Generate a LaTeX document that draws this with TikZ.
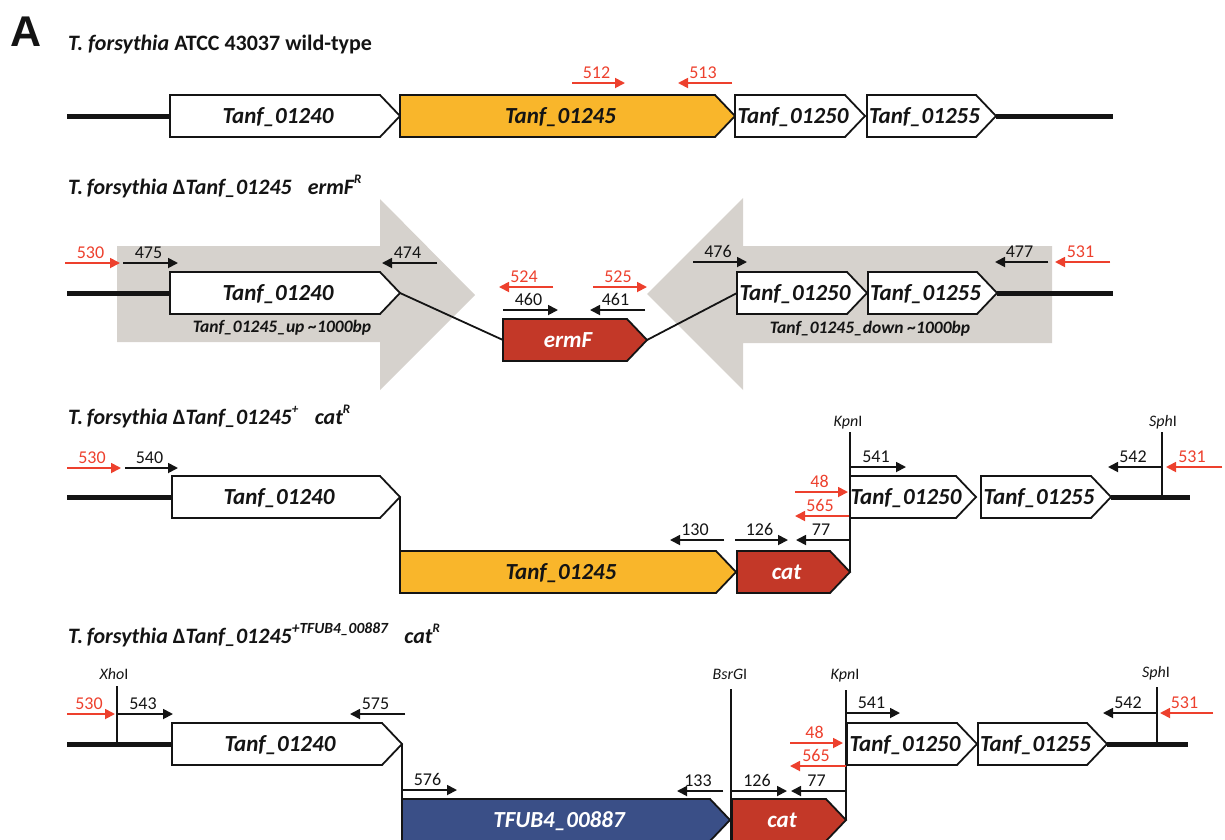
\documentclass[tikz,border=0pt]{standalone}
\usepackage{fontspec}
\setmainfont{Carlito}
\newfontfamily\panelfont{Liberation Sans}
\usetikzlibrary{arrows.meta}

\definecolor{geneorange}{RGB}{249,182,43}
\definecolor{genered}{RGB}{195,56,40}
\definecolor{geneblue}{RGB}{58,79,135}
\definecolor{primerred}{RGB}{237,64,45}
\definecolor{flankgrey}{RGB}{214,210,205}
\definecolor{ink}{RGB}{20,20,20}

% gene arrow geometry: half height and tip length
\def\gh{21}
\def\gt{20}

\tikzset{
  genebox/.style={draw=ink, line width=1.8pt, line join=miter},
  genetext/.style={font=\fontsize{23}{25}\selectfont\bfseries\itshape, anchor=base, inner sep=0pt},
  flanktext/.style={font=\fontsize{17.5}{19}\selectfont\bfseries\itshape, anchor=base, inner sep=0pt, text=ink},
  chrom/.style={draw=ink, line width=5pt},
  link/.style={draw=ink, line width=1.8pt},
  siteline/.style={draw=ink, line width=1.8pt},
  primerarrow/.style={line width=1.8pt, -{Triangle[length=10pt,width=10pt]}},
  primerlabel/.style={font=\fontsize{18}{20}\selectfont, anchor=base, inner sep=0pt},
  sitelabel/.style={font=\fontsize{16}{18}\selectfont, anchor=base, inner sep=0pt, text=ink},
  rowtitle/.style={font=\fontsize{22}{24}\selectfont\bfseries, anchor=base west, inner sep=0pt, text=ink},
}

% #1 name, #2 left x, #3 tip x, #4 centre y, #5 fill, #6 text colour, #7 label
\newcommand{\gene}[7]{%
  \coordinate (#1-w) at (#2,#4);
  \coordinate (#1-tip) at (#3,#4);
  \coordinate (#1-nw) at (#2,#4-\gh);
  \draw[genebox,fill=#5] (#2,#4-\gh) -- (#3-\gt,#4-\gh) -- (#1-tip)
     -- (#3-\gt,#4+\gh) -- (#2,#4+\gh) -- cycle;
  \node[genetext,text=#6] (#1) at ({(#2+#3-\gt)/2+3},#4+7.5) {#7};
}

% #1 name, #2 tail x, #3 head x, #4 y, #5 colour, #6 label
\newcommand{\primer}[6]{%
  \coordinate (#1-a) at (#2,#4);
  \coordinate (#1-b) at (#3,#4);
  \draw[primerarrow,draw=#5,fill=#5] (#1-a) -- (#1-b);
  \node[primerlabel,text=#5] (#1) at ({(#2+#3)/2-2},#4-5) {#6};
}

\newcommand{\sups}[1]{\raisebox{3pt}{\textsuperscript{\fontsize{13}{13}\selectfont #1}}}

\begin{document}
\begin{tikzpicture}[x=1pt,y=-1pt]
\useasboundingbox (0,0) rectangle (1225,839);
\clip (0,0) rectangle (1225,839);

% ---------- panel letter and wild-type locus ----------
\node[font=\panelfont\bfseries\fontsize{43}{45}\selectfont, anchor=base west, inner sep=0pt, text=ink] (panelA) at (10,46) {A};
\node[rowtitle] (t1) at (68,50) {\textit{T. forsythia} ATCC 43037 wild-type};

\coordinate (c1l) at (67,116);
\coordinate (c1r) at (1113,116);
\gene{r1a}{170}{400}{116}{white}{ink}{Tanf\_01240}
\gene{r1b}{400}{735}{116}{geneorange}{ink}{Tanf\_01245}
\gene{r1c}{735}{865}{116}{white}{ink}{Tanf\_01250}
\gene{r1d}{867}{996}{116}{white}{ink}{Tanf\_01255}
\draw[chrom] (c1l) -- (r1a-w);
\draw[chrom] (r1d-tip) -- (c1r);
\primer{r1p512}{572}{625}{83}{primerred}{512}
\primer{r1p513}{732}{678}{83}{primerred}{513}

% ---------- ermF deletion mutant ----------
\node[rowtitle] (t2) at (68,194) {\itshape T.\,forsythia \upshape Δ\itshape Tanf\_01245\enspace\ ermF\sups{R}};

% flanking regions
\fill[flankgrey] (117,246) -- (380,246) -- (380,199) -- (475,295) -- (380,390) -- (380,342) -- (117,342) -- cycle;
\fill[flankgrey] (1052,246) -- (743,246) -- (743,198) -- (647,294) -- (743,390) -- (743,343) -- (1052,343) -- cycle;

\coordinate (c2l) at (67,293);
\coordinate (c2r) at (1113,293);
\gene{r2a}{170}{400}{293}{white}{ink}{Tanf\_01240}
\gene{r2e}{503}{647}{340}{genered}{white}{ermF}
\gene{r2c}{737}{867}{293}{white}{ink}{Tanf\_01250}
\gene{r2d}{868}{997}{293}{white}{ink}{Tanf\_01255}
\draw[chrom] (c2l) -- (r2a-w);
\draw[chrom] (r2d-tip) -- (c2r);
\draw[link] (r2a-tip) -- (r2e-w);
\draw[link] (r2e-tip) -- (r2c-w);
\node[flanktext] (up) at (282,332) {Tanf\_01245\_up \textasciitilde1000bp};
\node[flanktext] (down) at (870,333) {Tanf\_01245\_down \textasciitilde1000bp};

\primer{r2p530}{65}{120}{263}{primerred}{530}
\primer{r2p475}{123}{178}{263}{ink}{475}
\primer{r2p474}{437}{382}{263}{ink}{474}
\primer{r2p476}{693}{747}{262}{ink}{476}
\primer{r2p477}{1048}{995}{262}{ink}{477}
\primer{r2p531}{1110}{1055}{262}{primerred}{531}
\primer{r2p524}{553}{499}{287}{primerred}{524}
\primer{r2p525}{593}{647}{287}{primerred}{525}
\primer{r2p460}{503}{558}{310}{ink}{460}
\primer{r2p461}{645}{590}{310}{ink}{461}

% ---------- complemented strain ----------
\node[rowtitle] (t3) at (68,424) {\itshape T.\,forsythia \upshape Δ\itshape Tanf\_01245\sups{+}\enspace\ cat\sups{R}};

\coordinate (c3l) at (67,497);
\coordinate (c3r) at (1190,497);
\gene{r3a}{172}{400}{497}{white}{ink}{Tanf\_01240}
\gene{r3b}{400}{736}{572}{geneorange}{ink}{Tanf\_01245}
\gene{r3e}{737}{850}{572}{genered}{white}{cat}
\gene{r3c}{850}{976}{497}{white}{ink}{Tanf\_01250}
\gene{r3d}{981}{1111}{497}{white}{ink}{Tanf\_01255}
\draw[chrom] (c3l) -- (r3a-w);
\draw[chrom] (r3d-tip) -- (c3r);
\draw[link] (r3a-tip) -- (r3b-nw);

\node[sitelabel] (r3kpn) at (848,426) {\textit{Kpn}I};
\coordinate (r3kpn-top) at (850,432);
\draw[siteline] (r3kpn-top) -- (r3e-tip);
\node[sitelabel] (r3sph) at (1163,426) {\textit{Sph}I};
\coordinate (r3sph-top) at (1162,432);
\coordinate (r3sph-bot) at (1162,497);
\draw[siteline] (r3sph-top) -- (r3sph-bot);

\primer{r3p530}{67}{121}{468}{primerred}{530}
\primer{r3p540}{125}{178}{468}{ink}{540}
\primer{r3p541}{850}{906}{467}{ink}{541}
\primer{r3p48}{795}{848}{492}{primerred}{48}
\primer{r3p565}{849}{795}{516}{primerred}{565}
\primer{r3p77}{850}{796}{540}{ink}{77}
\primer{r3p126}{735}{788}{540}{ink}{126}
\primer{r3p130}{724}{670}{540}{ink}{130}
\primer{r3p542}{1162}{1108}{467}{ink}{542}
\primer{r3p531}{1222}{1166}{467}{primerred}{531}

% ---------- TFUB4_00887 complemented strain ----------
\node[rowtitle] (t4) at (68,643) {\itshape T.\,forsythia \upshape Δ\itshape Tanf\_01245\raisebox{2pt}{\textsuperscript{\fontsize{15.5}{15.5}\selectfont +TFUB4\_00887}}\enspace\ cat\sups{R}};

\coordinate (c4l) at (67,744);
\coordinate (c4r) at (1188,744);
\gene{r4a}{172}{402}{744}{white}{ink}{Tanf\_01240}
\gene{r4b}{402}{730}{820}{geneblue}{white}{TFUB4\_00887}
\gene{r4e}{732}{846}{820}{genered}{white}{cat}
\gene{r4c}{847}{977}{744}{white}{ink}{Tanf\_01250}
\gene{r4d}{978}{1107}{744}{white}{ink}{Tanf\_01255}
\draw[chrom] (c4l) -- (r4a-w);
\draw[chrom] (r4d-tip) -- (c4r);
\draw[link] (r4a-tip) -- (r4b-nw);

\node[sitelabel] (r4xho) at (114,679) {\textit{Xho}I};
\coordinate (r4xho-top) at (117,686);
\coordinate (r4xho-bot) at (117,744);
\draw[siteline] (r4xho-top) -- (r4xho-bot);
\node[sitelabel] (r4bsr) at (730,679) {\textit{BsrG}I};
\coordinate (r4bsr-top) at (731,689);
\coordinate (r4bsr-bot) at (731,845);
\draw[siteline] (r4bsr-top) -- (r4bsr-bot);
\node[sitelabel] (r4kpn) at (845,679) {\textit{Kpn}I};
\coordinate (r4kpn-top) at (846,690);
\draw[siteline] (r4kpn-top) -- (r4e-tip);
\node[sitelabel] (r4sph) at (1156,677) {\textit{Sph}I};
\coordinate (r4sph-top) at (1157,687);
\coordinate (r4sph-bot) at (1157,744);
\draw[siteline] (r4sph-top) -- (r4sph-bot);

\primer{r4p530}{67}{115}{714}{primerred}{530}
\primer{r4p543}{117}{173}{714}{ink}{543}
\primer{r4p575}{405}{350}{714}{ink}{575}
\primer{r4p576}{402}{457}{790}{ink}{576}
\primer{r4p133}{723}{677}{791}{ink}{133}
\primer{r4p126}{731}{787}{791}{ink}{126}
\primer{r4p77}{846}{791}{791}{ink}{77}
\primer{r4p48}{790}{843}{743}{primerred}{48}
\primer{r4p565}{846}{790}{766}{primerred}{565}
\primer{r4p541}{847}{900}{713}{ink}{541}
\primer{r4p542}{1157}{1103}{713}{ink}{542}
\primer{r4p531}{1213}{1160}{713}{primerred}{531}
\end{tikzpicture}
\end{document}
